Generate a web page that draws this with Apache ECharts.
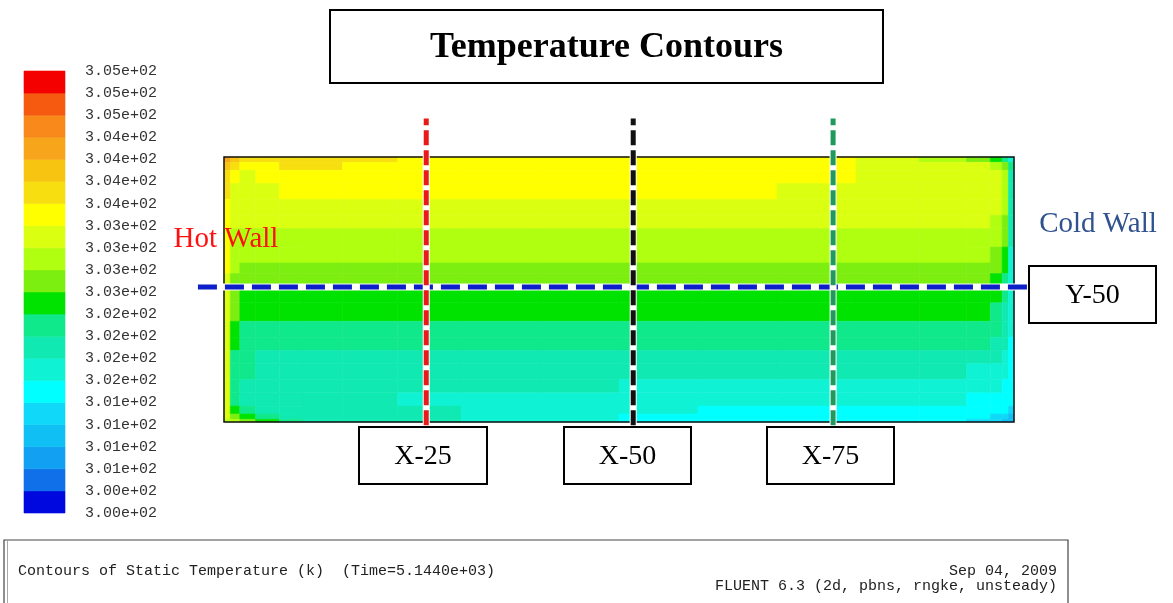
<!DOCTYPE html>
<html><head><meta charset="utf-8">
<script src="https://cdn.jsdelivr.net/npm/echarts@6/dist/echarts.min.js"></script>
<style>html,body{margin:0;padding:0;background:#fff}#c{width:1173px;height:603px}</style>
</head><body><div id="c"></div>
<script>
// ---- colour bar ----
const tickLabels = ['3.05e+02','3.05e+02','3.05e+02','3.04e+02','3.04e+02','3.04e+02','3.04e+02',
  '3.03e+02','3.03e+02','3.03e+02','3.03e+02','3.02e+02','3.02e+02','3.02e+02','3.02e+02',
  '3.01e+02','3.01e+02','3.01e+02','3.01e+02','3.00e+02','3.00e+02'];
const bandEdges = [300.00,300.25,300.50,300.75,301.00,301.25,301.50,301.75,302.00,302.25,302.50,
  302.75,303.00,303.25,303.50,303.75,304.00,304.25,304.50,304.75,305.00];
const bandColors = ['#0008e0','#1070ea','#12a0f2','#10c0f4','#10d8f8','#00ffff','#10f2d4','#10eab2',
  '#10e88c','#00e200','#7cee10','#b0ff10','#daff10','#ffff00','#f6de10','#f8c412','#f7a61c',
  '#f8891a','#f55a10','#f40000'];

// ---- temperature field (cell edges in % of cavity, rows listed top to bottom) ----
const xEdges = [0,0.8,2,4,7,10,15,22,30,40,50,60,70,80,88,94,97,98.5,99.3,100];
const yEdges = [0,1,3,6,11,16,22,27,32,38,45,52,56,60,66,73,78,84,90,95,98,100];
const tempRows = [
  [304.1,303.9,303.6,303.6,303.6,303.6,303.6,303.4,303.4,303.4,303.4,303.4,303.4,303.1,302.9,302.6,302.4,302.1,301.6],
  [303.9,303.6,303.4,303.4,303.6,303.6,303.4,303.4,303.4,303.4,303.4,303.4,303.4,303.1,303.1,303.1,302.9,302.6,302.1],
  [303.6,303.4,303.1,303.4,303.4,303.4,303.4,303.4,303.4,303.4,303.4,303.4,303.4,303.1,303.1,303.1,303.1,302.9,301.9],
  [303.6,303.1,303.1,303.1,303.4,303.4,303.4,303.4,303.4,303.4,303.4,303.4,303.1,303.1,303.1,303.1,303.1,302.9,301.9],
  [303.4,303.1,303.1,303.1,303.1,303.1,303.1,303.1,303.1,303.1,303.1,303.1,303.1,303.1,303.1,303.1,303.1,302.9,301.9],
  [303.4,303.1,303.1,303.1,303.1,303.1,303.1,303.1,303.1,303.1,303.1,303.1,303.1,303.1,303.1,303.1,302.9,302.6,301.9],
  [303.4,302.9,302.9,302.9,302.9,302.9,302.9,302.9,302.9,302.9,302.9,302.9,302.9,302.9,302.9,302.9,302.9,302.6,301.9],
  [303.4,302.9,302.9,302.9,302.9,302.9,302.9,302.9,302.9,302.9,302.9,302.9,302.9,302.9,302.9,302.9,302.6,302.4,301.6],
  [303.4,302.9,302.6,302.6,302.6,302.6,302.6,302.6,302.6,302.6,302.6,302.6,302.6,302.6,302.6,302.6,302.6,302.4,301.6],
  [303.1,302.6,302.6,302.6,302.6,302.6,302.6,302.6,302.6,302.6,302.6,302.6,302.6,302.6,302.6,302.6,302.4,302.1,301.6],
  [303.1,302.6,302.4,302.4,302.4,302.4,302.4,302.4,302.4,302.4,302.4,302.4,302.4,302.4,302.4,302.4,302.4,302.1,301.6],
  [303.1,302.6,302.4,302.4,302.4,302.4,302.4,302.4,302.4,302.4,302.4,302.4,302.4,302.4,302.4,302.4,302.1,301.9,301.6],
  [303.1,302.4,302.1,302.1,302.1,302.1,302.1,302.1,302.1,302.1,302.1,302.1,302.1,302.1,302.1,302.1,302.1,301.9,301.6],
  [303.1,302.4,302.1,302.1,302.1,302.1,302.1,302.1,302.1,302.1,302.1,302.1,302.1,302.1,302.1,302.1,301.9,301.9,301.4],
  [303.1,302.1,302.1,301.9,301.9,301.9,301.9,301.9,301.9,301.9,301.9,301.9,301.9,301.9,301.9,301.9,301.9,301.6,301.4],
  [303.1,302.1,302.1,301.9,301.9,301.9,301.9,301.9,301.9,301.9,301.9,301.9,301.9,301.9,301.9,301.6,301.6,301.6,301.4],
  [303.1,302.1,301.9,301.9,301.9,301.9,301.9,301.9,301.9,301.9,301.6,301.6,301.6,301.6,301.6,301.6,301.6,301.4,301.4],
  [303.1,302.1,301.9,301.9,301.9,301.9,301.9,301.6,301.6,301.6,301.6,301.6,301.6,301.6,301.6,301.4,301.4,301.4,301.4],
  [303.1,302.4,302.1,301.9,301.9,301.9,301.9,301.9,301.6,301.6,301.6,301.4,301.4,301.4,301.4,301.4,301.4,301.4,301.1],
  [303.1,302.6,302.4,302.1,301.9,301.9,301.9,301.9,301.6,301.6,301.4,301.4,301.4,301.4,301.4,301.4,301.1,301.1,300.9],
  [302.9,302.9,302.6,302.4,302.1,301.9,301.9,301.9,301.6,301.6,301.4,301.4,301.4,301.4,301.4,301.1,301.1,300.9,300.9]
];

// ---- section lines ----
const sectionX = [25.6, 51.8, 77.1];
const sectionNames = ['X-25', 'X-50', 'X-75'];
const sectionColors = ['#e81a1a', '#111111', '#1f9a5c'];
const sectionY = 50.9;
const sectionYName = 'Y-50';
const sectionYColor = '#0d1fc8';

// ---- build ----
const nRows = tempRows.length;
const fieldData = [];
tempRows.forEach((row, r) => {
  const j = nRows - 1 - r;
  row.forEach((t, i) => fieldData.push([i, j, t]));
});
const barData = bandColors.map((c, k) => [0, k, (bandEdges[k] + bandEdges[k + 1]) / 2]);
const pieces = bandColors.map((c, k) => ({ gte: bandEdges[k], lt: bandEdges[k + 1], color: c }));

function renderCell(params, api) {
  const i = api.value(0), j = api.value(1);
  const p0 = api.coord([xEdges[i], yEdges[j + 1]]);
  const p1 = api.coord([xEdges[i + 1], yEdges[j]]);
  const c = api.visual('color');
  return { type: 'rect', shape: { x: p0[0], y: p0[1], width: p1[0] - p0[0], height: p1[1] - p0[1] },
    style: { fill: c, stroke: c, lineWidth: 0.6 } };
}
function renderBand(params, api) {
  const k = api.value(1);
  const p0 = api.coord([0, k + 1]);
  const p1 = api.coord([1, k]);
  const c = api.visual('color');
  return { type: 'rect', shape: { x: p0[0], y: p0[1], width: p1[0] - p0[0], height: p1[1] - p0[1] },
    style: { fill: c, stroke: c, lineWidth: 0.6 } };
}
// section lines: item = [x0, y0, x1, y1, colourIndex, dash, gap]
const lineColors = sectionColors.concat([sectionYColor]);
const lineData = [[-3.3, sectionY, 102, sectionY, 3, 19, 8]];
sectionX.forEach((x, n) => lineData.push([x, -1.2, x, 114.5, n, 15, 5]));
function renderLine(params, api) {
  const a = api.coord([api.value(0), api.value(1)]);
  const b = api.coord([api.value(2), api.value(3)]);
  const col = lineColors[api.value(4)];
  const shape = { x1: a[0], y1: a[1], x2: b[0], y2: b[1] };
  return { type: 'group', children: [
    { type: 'line', shape: shape, style: { stroke: '#ffffff', lineWidth: 7 } },
    { type: 'line', shape: shape, style: { stroke: col, lineWidth: 5, lineDash: [api.value(5), api.value(6)] } }
  ] };
}

const series = [
  { type: 'custom', name: 'field', xAxisIndex: 0, yAxisIndex: 0, data: fieldData, renderItem: renderCell, z: 2, silent: true },
  { type: 'custom', name: 'bar', xAxisIndex: 1, yAxisIndex: 1, data: barData, renderItem: renderBand, z: 2, silent: true },
  { type: 'custom', name: 'sections', xAxisIndex: 0, yAxisIndex: 0, data: lineData, renderItem: renderLine, clip: false, z: 20, silent: true }
];

function box(x, y, w, h, text, font) {
  return { type: 'group', z: 30, children: [
    { type: 'rect', z: 30, shape: { x: x, y: y, width: w, height: h }, style: { fill: '#fff', stroke: '#000', lineWidth: 2 } },
    { type: 'text', z: 31, style: { text: text, x: x + w / 2, y: y + h / 2 + 1, textAlign: 'center', textVerticalAlign: 'middle', font: font, fill: '#000' } }
  ] };
}
const boxPos = [[359, 427, 128, 57], [564, 427, 127, 57], [767, 427, 127, 57]];
const graphics = [
  { type: 'rect', z: 15, shape: { x: 224, y: 157, width: 790, height: 265 }, style: { fill: 'none', stroke: '#111', lineWidth: 1.5 } },
  box(330, 10, 553, 73, 'Temperature Contours', 'bold 36px "Liberation Serif"'),
  box(1029, 266, 127, 57, sectionYName, '28px "Liberation Serif"'),
  { type: 'text', z: 31, style: { text: 'Hot Wall', x: 226, y: 239, textAlign: 'center', textVerticalAlign: 'middle', font: '29px "Liberation Serif"', fill: '#ff1010' } },
  { type: 'text', z: 31, style: { text: 'Cold Wall', x: 1098, y: 224, textAlign: 'center', textVerticalAlign: 'middle', font: '29px "Liberation Serif"', fill: '#2f528f' } },
  { type: 'rect', z: 5, shape: { x: 4, y: 540, width: 1064, height: 80 }, style: { fill: 'none', stroke: '#444', lineWidth: 1.2 } },
  { type: 'line', z: 5, shape: { x1: 7.5, y1: 541, x2: 7.5, y2: 603 }, style: { stroke: '#aaa', lineWidth: 1 } },
  { type: 'text', z: 6, style: { text: 'Contours of Static Temperature (k)  (Time=5.1440e+03)', x: 18, y: 571, textAlign: 'left', textVerticalAlign: 'middle', font: '15px "Liberation Mono"', fill: '#222' } },
  { type: 'text', z: 6, style: { text: 'Sep 04, 2009', x: 1057, y: 571, textAlign: 'right', textVerticalAlign: 'middle', font: '15px "Liberation Mono"', fill: '#222' } },
  { type: 'text', z: 6, style: { text: 'FLUENT 6.3 (2d, pbns, rngke, unsteady)', x: 1057, y: 586, textAlign: 'right', textVerticalAlign: 'middle', font: '15px "Liberation Mono"', fill: '#222' } }
];
sectionNames.forEach((nm, n) => {
  const b = boxPos[n];
  graphics.push(box(b[0], b[1], b[2], b[3], nm, '28px "Liberation Serif"'));
});

const chart = echarts.init(document.getElementById('c'), null, { renderer: 'canvas' });
chart.setOption({
  animation: false,
  backgroundColor: '#fff',
  grid: [
    { left: 224, top: 157, width: 790, height: 265 },
    { left: 24, top: 71, width: 41, height: 442 }
  ],
  xAxis: [
    { gridIndex: 0, type: 'value', min: 0, max: 100, show: false },
    { gridIndex: 1, type: 'value', min: 0, max: 1, show: false }
  ],
  yAxis: [
    { gridIndex: 0, type: 'value', min: 0, max: 100, show: false },
    { gridIndex: 1, type: 'value', min: 0, max: 20, interval: 1, position: 'right',
      axisLine: { show: false }, axisTick: { show: false }, splitLine: { show: false },
      axisLabel: { margin: 20, showMinLabel: true, showMaxLabel: true, fontFamily: 'Liberation Mono', fontSize: 15, color: '#333',
        formatter: v => tickLabels[tickLabels.length - 1 - Math.round(v)] } }
  ],
  visualMap: { type: 'piecewise', show: false, dimension: 2, seriesIndex: [0, 1], pieces: pieces },
  series: series,
  graphic: graphics
});
</script></body></html>
